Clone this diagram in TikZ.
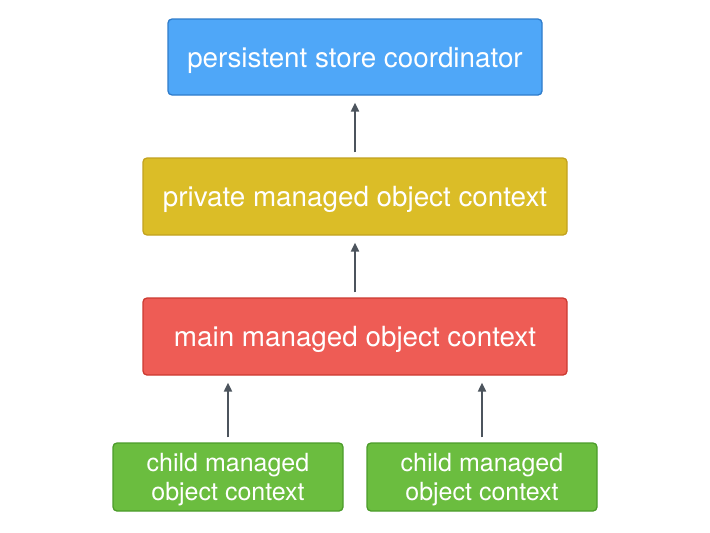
\documentclass[tikz,border=0pt]{standalone}
\usepackage{fontspec}
\setmainfont{TeX Gyre Heros}
\usetikzlibrary{arrows.meta}

\definecolor{bluefill}{HTML}{4FA7F8}
\definecolor{blueline}{HTML}{2F7CCB}
\definecolor{yellowfill}{HTML}{DBBD27}
\definecolor{yellowline}{HTML}{C2A21E}
\definecolor{redfill}{HTML}{EE5C55}
\definecolor{redline}{HTML}{CC3A31}
\definecolor{greenfill}{HTML}{6BBD3F}
\definecolor{greenline}{HTML}{4C9C2B}
\definecolor{arrowgray}{HTML}{4C545D}

\begin{document}
\begin{tikzpicture}[x=1pt, y=-1pt,
		box/.style={draw, line width=1.3pt, rounded corners=4pt, inner sep=0pt, text=white, align=center, text depth=0pt, font=\fontsize{27.8}{32}\selectfont},
		smallbox/.style={box, minimum width=230pt, minimum height=68pt, font=\fontsize{25}{29}\selectfont},
		up/.style={draw=arrowgray, line width=2pt, -{Triangle[length=9pt, width=8pt]}, shorten <=5pt, shorten >=7pt}]
				\useasboundingbox (0,0) rectangle (710,533);
				
				\node[box, fill=bluefill, draw=blueline, minimum width=374pt, minimum height=76pt] (coord) at (355,57) {persistent store coordinator};
				\node[box, fill=yellowfill, draw=yellowline, minimum width=424pt, minimum height=77pt] (private) at (355,196.5) {private managed object context};
				\node[box, fill=redfill, draw=redline, minimum width=424pt, minimum height=77pt] (main) at (355,336.5) {main managed object context};
				\node[smallbox, fill=greenfill, draw=greenline] (childa) at (228,477) {child managed\\object context};
				\node[smallbox, fill=greenfill, draw=greenline] (childb) at (482,477) {child managed\\object context};
				
				\draw[up] (private) -- (coord);
				\draw[up] (main) -- (private);
				\draw[up] (childa) -- (childa |- main.south);
				\draw[up] (childb) -- (childb |- main.south);
			\end{tikzpicture}
\end{document}
